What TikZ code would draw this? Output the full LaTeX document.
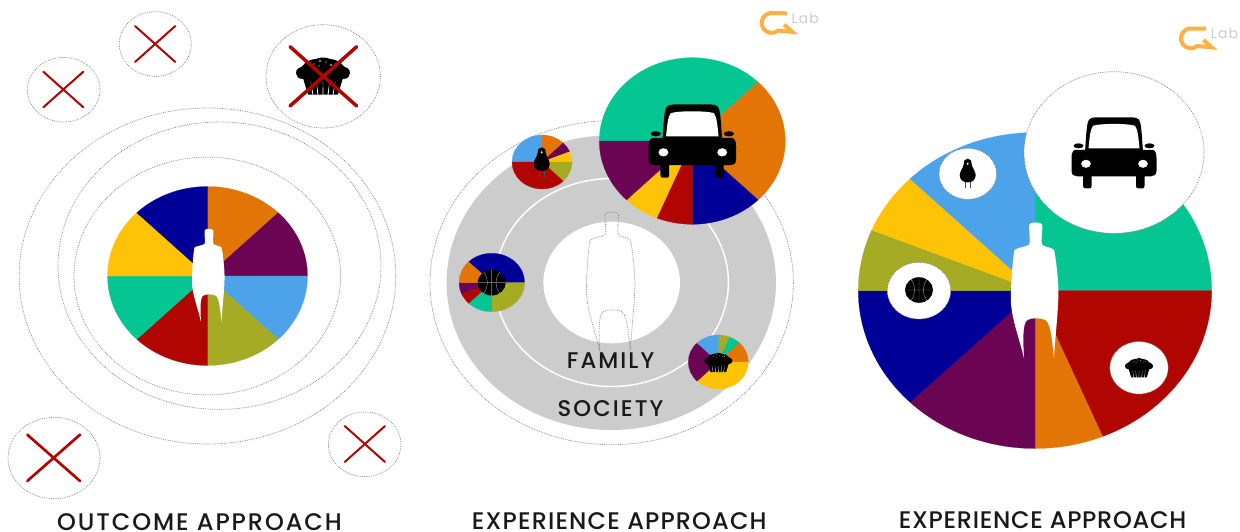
\documentclass[tikz,border=0pt]{standalone}
\usepackage{fontspec}
\setmainfont{Poppins}
\newfontfamily\capfontA[LetterSpace=8]{Poppins Medium}
\newfontfamily\capfontB[LetterSpace=4.7]{Poppins Medium}
\newfontfamily\capfontC[LetterSpace=2.9]{Poppins Medium}
\newfontfamily\capfontD[LetterSpace=9]{Poppins Medium}
\newfontfamily\labfont[LetterSpace=8]{Poppins}
\definecolor{cor}{HTML}{E27505}
\definecolor{cpu}{HTML}{6B0553}
\definecolor{cbl}{HTML}{4CA3EA}
\definecolor{col}{HTML}{A5AB24}
\definecolor{cre}{HTML}{B00500}
\definecolor{cgr}{HTML}{05C693}
\definecolor{cye}{HTML}{FEC306}
\definecolor{cna}{HTML}{000099}
\definecolor{ringgray}{HTML}{CCCCCC}
\definecolor{logoor}{HTML}{FDB143}
\tikzset{
 dotline/.style={draw=black!50,line width=0.55pt,dash pattern=on 0.55pt off 0.8pt},
 crossmark/.style={draw=cre,line width=#1,line cap=round},
 caption/.style={text=black!90,inner sep=0pt},
 labtext/.style={font=\labfont\fontsize{10.5}{12}\selectfont,text=ringgray,inner sep=0pt},
}
% wedges: list of start/end/colour, angles measured counter-clockwise on screen
\newcommand\piechart[5]{%
 \begin{scope}[shift={(#1,#2)},xscale=#3,yscale=-#4]
 \foreach \a/\b/\c in {#5}{\fill[\c,draw=\c,line width=0.15pt] (0,0) -- (\a:1) arc[start angle=\a,end angle=\b,radius=1] -- cycle;}
 \end{scope}}
\newcommand\elli[4]{(#1,#2) ellipse [x radius=#3,y radius=#4]}
\newcommand\personpath{(-4,-44) .. controls (-4.5,-47) and (5.5,-47) .. (5,-44) .. controls (5,-38) and (4,-33) .. (5,-31) .. controls (6,-29.5) and (11,-29.5) .. (13,-27.5) .. controls (14,-24) and (16.5,-5) .. (16,5) .. controls (15.5,20) and (13.5,35) .. (13,47) .. controls (12,38) and (11,22) .. (7,20.5) .. controls (4,19) and (-3,19) .. (-5,20.5) .. controls (-9,22) and (-8,38) .. (-7.5,47) .. controls (-10,35) and (-17,18) .. (-16.5,5) .. controls (-16.5,-5) and (-15,-24) .. (-14,-27.5) .. controls (-11,-29.5) and (-6,-29.5) .. (-4,-31) .. controls (-3,-33) and (-4,-38) .. (-4,-44) -- cycle}
\newcommand\caricon[3]{%
 \begin{scope}[shift={(#1,#2)},scale=#3]
 \fill[black] (-29,-1) .. controls (-28,-15) and (-27.5,-26) .. (-26,-31) .. controls (-25,-35.5) and (-20,-35.5) .. (-15,-35.5) -- (15,-35.5) .. controls (20,-35.5) and (25,-35.5) .. (26,-31) .. controls (27.5,-26) and (28,-15) .. (29,-1) -- cycle;
 \fill[black] (-28,-3) -- (-38,-3) .. controls (-41,-3) and (-42.5,0) .. (-42.5,5) -- (-42.5,18) .. controls (-42.5,22) and (-40,23.5) .. (-37,23.5) -- (-31,23.5) -- (-31,33) .. controls (-31,35.5) and (-30,35.5) .. (-28,35.5) -- (-25,35.5) .. controls (-23,35.5) and (-22.5,35.5) .. (-22.5,33) -- (-22.5,23.5) -- (22,23.5) -- (22,33) .. controls (22,35.5) and (23,35.5) .. (25,35.5) -- (28,35.5) .. controls (30,35.5) and (30.5,35.5) .. (30.5,33) -- (30.5,23.5) -- (37,23.5) .. controls (40,23.5) and (42.5,22) .. (42.5,18) -- (42.5,5) .. controls (42.5,0) and (41,-3) .. (38,-3) -- (28,-3) -- cycle;
 \fill[black] \elli{-35.5}{-7}{5}{2.5} \elli{35.5}{-7}{5}{2.5};
 \fill[white] (-25.5,-4.5) .. controls (-24.5,-14) and (-24,-23) .. (-21,-27) .. controls (-14,-29.5) and (14,-29.5) .. (21,-27) .. controls (24,-23) and (24.5,-14) .. (25.5,-4.5) -- cycle;
 \fill[white] \elli{-28}{11}{4.8}{4} \elli{29}{11}{4.8}{4};
 \end{scope}}
\newcommand\birdicon[2]{%
 \begin{scope}[shift={(#1,#2)}]
 \draw[black!70,line width=0.45pt] (-2.7,8) -- (-2.7,15) (2.7,8) -- (2.7,15);
 \fill[black] (0,-14.5) .. controls (-3,-14.5) and (-4.5,-12) .. (-4,-9) .. controls (-4,-6) and (-8,-2) .. (-8,2) .. controls (-8,7) and (-4,9.2) .. (0,9.2) .. controls (4,9.2) and (8,7) .. (8,2) .. controls (8,-2) and (4,-6) .. (4,-9) .. controls (4.5,-12) and (3,-14.5) .. (0,-14.5) -- cycle;
 \fill[white] \elli{0}{-9.5}{1}{1.2};
 \end{scope}}
\newcommand\muffinicon[3]{%
 \begin{scope}[shift={(#1,#2)},scale=#3]
 \fill[black] (-20,2) -- (-15,18.5) -- (15,18.5) -- (20,2) -- cycle;
 \fill[black] (-20,3) .. controls (-25,3) and (-27,0) .. (-27,-3) .. controls (-27,-6.5) and (-24,-9) .. (-21,-9.5) .. controls (-18,-14) and (-12,-17) .. (-7,-17) .. controls (-3,-19) and (3,-19) .. (7,-17) .. controls (12,-17) and (18,-14) .. (21,-9.5) .. controls (24,-9) and (27,-6.5) .. (27,-3) .. controls (27,0) and (25,3) .. (20,3) -- cycle;
 \fill[white] (-12.5,5) -- (-10.5,18.5) -- (-9.6,18.5) -- cycle (-6.5,5) -- (-5.6,18.5) -- (-4.6,18.5) -- cycle (0,5) -- (-0.5,18.5) -- (0.5,18.5) -- cycle (6.5,5) -- (4.6,18.5) -- (5.6,18.5) -- cycle (12.5,5) -- (9.6,18.5) -- (10.5,18.5) -- cycle;
 \fill[white] (-9,-12) circle [radius=0.7] (-3,-15) circle [radius=0.8] (3,-14) circle [radius=0.7] (8,-11) circle [radius=0.8] (-4,-10) circle [radius=0.6] (12,-12) circle[radius=0.6];
 \end{scope}}
\newcommand\ballicon[2]{%
 \fill[black] \elli{#1}{#2}{14}{12.8};
 \begin{scope}[shift={(#1,#2)}]
 \draw[black!45,line width=0.35pt] (-14,0) -- (14,0) (0,-12.8) -- (0,12.8) (-8,-10.5) .. controls (-3,-4) and (-3,4) .. (-8,10.5) (8,-10.5) .. controls (3,-4) and (3,4) .. (8,10.5);
 \end{scope}}
\newcommand\glabmark[3]{%
 \begin{scope}[shift={(#1,#2)},yscale=-1]
 \draw[logoor,line width=3pt,line join=miter] (15.5,9.6) -- (2,9.8) arc[start angle=80,end angle=310,radius=10] -- (21,-9) -- (12.7,-1.7);
 \end{scope}
 \node[labtext,anchor=west] (#3) at (#1+20,#2-5) {Lab};}
\begin{document}
\begin{tikzpicture}[x=0.75pt,y=-0.75pt]
\useasboundingbox (0,0) rectangle (1240,532);
\fill[white] (0,0) rectangle (1240,532);
%% ---------- panel 1
\draw[dotline] \elli{207.5}{276}{188.3}{168};
\draw[dotline] \elli{219.5}{265.7}{161.5}{143.7};
\draw[dotline] \elli{207.3}{276}{133.3}{118.8};
\piechart{207.5}{276}{100}{89.5}{90/45/cor,45/0/cpu,0/-45/cbl,-45/-90/col,-90/-135/cre,-135/-180/cgr,180/135/cye,135/90/cna}
\fill[white,shift={(208.5,275)}] \personpath;
\draw[dotline] \elli{63.7}{89.7}{36.3}{32.3};
\draw[crossmark=1.5pt] (43.3,71.7) -- (83.3,107.3) (83.3,71.7) -- (43.3,107.3);
\draw[dotline] \elli{155.3}{44}{36}{32.3};
\draw[crossmark=1.5pt] (135,26) -- (175.3,62) (175.3,26) -- (135,62);
\draw[dotline] \elli{323.2}{76.3}{57.2}{51.7};
\muffinicon{323}{76}{1}
\draw[crossmark=2.6pt] (290,46.7) -- (356.7,106) (356.7,46.7) -- (290,106);
\draw[dotline] \elli{54}{458}{46}{40.7};
\draw[crossmark=2pt] (27.3,434.7) -- (80,481) (80,434.7) -- (27.3,481);
\draw[dotline] \elli{364.7}{444.3}{36.3}{32.3};
\draw[crossmark=1.5pt] (344.7,426) -- (385,462) (385,426) -- (344.7,462);
\node[caption,font=\capfontA\fontsize{18}{20}\selectfont] (cap1) at (199.5,522) {OUTCOME APPROACH};
%% ---------- panel 2
\draw[dotline] \elli{611.7}{282.7}{181.7}{162};
\fill[ringgray] \elli{611.3}{282.7}{164.7}{147.3};
\fill[white] \elli{611.7}{282.5}{68.3}{60.8};
\draw[white,line width=1.1pt] \elli{611.7}{282.5}{116.7}{104};
\draw[dotline,shift={(611,281)},scale=1.49] \personpath;
\node[caption,font=\capfontD\fontsize{17}{20}\selectfont] (family) at (610.5,361) {FAMILY};
\node[caption,font=\capfontD\fontsize{17}{20}\selectfont] (society) at (610.5,409) {SOCIETY};
\piechart{692.3}{141}{93}{83.3}{180/45/cgr,45/-45/cor,-45/-90/cna,-90/-112.5/cre,-112.5/-135/cye,-135/-180/cpu}
\caricon{692.3}{141}{1.03}
\piechart{542}{162}{30}{27}{180/90/cbl,90/45/cor,45/22.5/cpu,22.5/0/cye,0/-45/col,-45/-180/cre}
\birdicon{541.7}{161.8}
\piechart{491.8}{282.5}{32.8}{29.2}{135/0/cna,0/-90/col,-90/-135/cgr,-135/-157.5/cre,-157.5/-180/cpu,180/135/cor}
\ballicon{491.7}{282.7}
\piechart{718.3}{362}{30}{27}{90/67.5/col,67.5/45/cgr,45/0/cor,0/-135/cye,-135/-225/cpu,135/90/cbl}
\muffinicon{718.3}{362.5}{0.52}
\node[caption,font=\capfontB\fontsize{18}{20}\selectfont] (cap2) at (619.3,521) {EXPERIENCE APPROACH};
\glabmark{771.4}{22.9}{lab2}
%% ---------- panel 3
\piechart{1035}{290.5}{176.7}{158}{90/0/cgr,0/-67.5/cre,-67.5/-90/cor,-90/-135/cpu,-135/-180/cna,180/157.5/col,157.5/135/cye,135/90/cbl}
\fill[white,shift={(1035,290)},scale=1.46] \personpath;
\fill[white] \elli{1114}{152.5}{90}{80.8};
\draw[dotline] \elli{1114}{152.5}{90}{80.8};
\fill[white] \elli{967.8}{173.8}{28.8}{25.5};
\draw[dotline] \elli{967.8}{173.8}{28.8}{25.5};
\fill[white] \elli{919}{290.7}{31.7}{28.3};
\draw[dotline] \elli{919}{290.7}{31.7}{28.3};
\fill[white] \elli{1139}{367.8}{29.2}{26.2};
\draw[dotline] \elli{1139}{367.8}{29.2}{26.2};
\caricon{1114}{152.8}{1}
\birdicon{967.7}{173.2}
\ballicon{919}{290}
\muffinicon{1139}{367.7}{0.52}
\node[caption,font=\capfontC\fontsize{18}{20}\selectfont] (cap3) at (1042.5,520.5) {EXPERIENCE APPROACH};
\glabmark{1190.7}{38.3}{lab3}
\end{tikzpicture}
\end{document}
